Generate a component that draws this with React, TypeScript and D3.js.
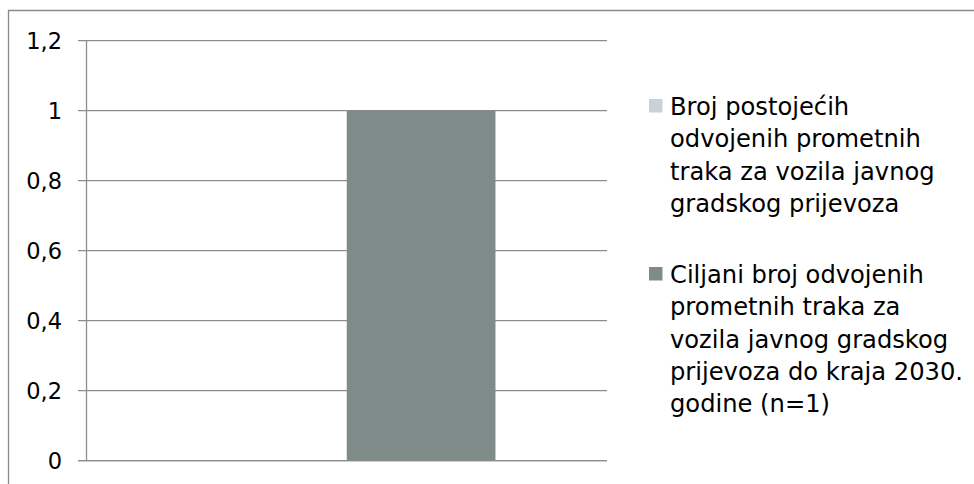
import React from "react";
import * as d3 from "d3";

const categories = [""];
const seriesNames = [
  "Broj postojećih odvojenih prometnih traka za vozila javnog gradskog prijevoza",
  "Ciljani broj odvojenih prometnih traka za vozila javnog gradskog prijevoza do kraja 2030. godine (n=1)",
];
const seriesValues = [[0], [1]];
const seriesColors = ["#c9d2d5", "#7f8b88"];
const legendLines = [
  ["Broj postojećih", "odvojenih prometnih", "traka za vozila javnog", "gradskog prijevoza"],
  ["Ciljani broj odvojenih", "prometnih traka za", "vozila javnog gradskog", "prijevoza do kraja 2030.", "godine (n=1)"],
];
const yTicks = [0, 0.2, 0.4, 0.6, 0.8, 1, 1.2];

const W = 974;
const H = 484;
const FONT = "'DejaVu Sans', Verdana, sans-serif";

export default function App() {
  const left = 86.5;
  const right = 607;
  const top = 40.7;
  const bottom = 460.7;
  const y = d3.scaleLinear().domain([0, 1.2]).range([bottom, top]);
  const xCat = d3.scaleBand().domain(categories).range([left, right]).padding(0);
  const xSer = d3
    .scaleBand()
    .domain(seriesNames)
    .range([0, xCat.bandwidth()])
    .paddingInner(0)
    .paddingOuter(0.75);
  const fmt = (v: number) => String(+v.toFixed(1)).replace(".", ",");
  const grid = "#8d8d8d";
  const legendTop = [115, 283];
  const lineH = 32.3;

  return (
    <svg
      width={W}
      height={H}
      style={{ position: "absolute", left: 0, top: 0, background: "#fff" }}
      fontFamily={FONT}
    >
      <rect x={0} y={0} width={W} height={H} fill="#fff" />
      <path d={`M8.5,${H + 2}V10.5H${W + 2}`} fill="none" stroke="#8a8a8a" strokeWidth={1.3} />
      {yTicks.map((t) => (
        <g key={t}>
          <line x1={78} x2={right} y1={y(t)} y2={y(t)} stroke={grid} strokeWidth={1.3} />
          <text
            x={62}
            y={y(t)}
            dy="0.36em"
            textAnchor="end"
            fontSize={22.5}
            fill="#000"
          >
            {fmt(t)}
          </text>
        </g>
      ))}
      {categories.map((c, ci) =>
        seriesNames.map((s, si) => {
          const v = seriesValues[si][ci];
          const x0 = (xCat(c) ?? 0) + (xSer(s) ?? 0);
          return (
            <rect
              key={s}
              x={x0}
              y={y(v)}
              width={xSer.bandwidth()}
              height={y(0) - y(v)}
              fill={seriesColors[si]}
            />
          );
        })
      )}
      <line x1={left} x2={left} y1={top} y2={bottom} stroke={grid} strokeWidth={1.3} />
      <line x1={78} x2={right} y1={bottom} y2={bottom} stroke={grid} strokeWidth={1.3} />
      {legendLines.map((lines, li) => (
        <g key={li}>
          <rect x={649} y={legendTop[li] - 16} width={13.5} height={13.5} fill={seriesColors[li]} />
          {lines.map((ln, k) => (
            <text key={k} x={670} y={legendTop[li] + k * lineH} fontSize={24.2} fill="#000">
              {ln}
            </text>
          ))}
        </g>
      ))}
    </svg>
  );
}
